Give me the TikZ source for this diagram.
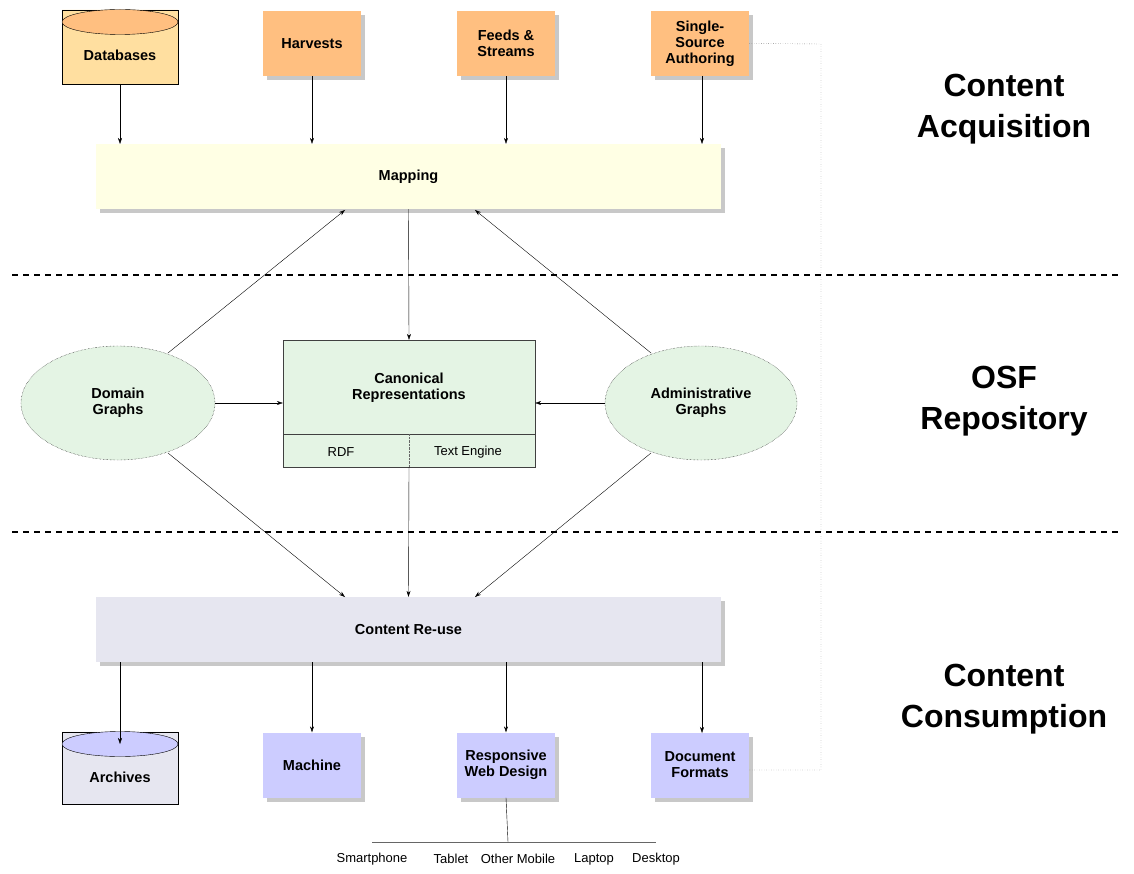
\documentclass[tikz,border=0pt]{standalone}
\usepackage{fontspec}
\setmainfont{Liberation Sans}
\usetikzlibrary{shapes.geometric,arrows.meta}
\definecolor{orangef}{HTML}{FFBF80}
\definecolor{dbf}{HTML}{FFDFA0}
\definecolor{mapf}{HTML}{FFFFE4}
\definecolor{greenf}{HTML}{E4F4E4}
\definecolor{reusef}{HTML}{E6E6F0}
\definecolor{bluef}{HTML}{CCCCFF}
\definecolor{shad}{HTML}{C8C8C8}
\begin{document}
\begin{tikzpicture}[x=1pt,y=-1pt,
 lbl/.style={font=\fontsize{14.5}{16}\selectfont\bfseries,align=center},
 box/.style={lbl,draw=none,minimum width=98pt,minimum height=65pt,inner sep=0pt},
 shadowed/.style={preaction={fill=shad,transform canvas={shift={(4pt,-4pt)}}}},
 arr/.style={-{Stealth[length=6pt,width=4pt]},black},
 big/.style={font=\fontsize{32}{41}\selectfont\bfseries,align=center},
 small/.style={font=\fontsize{13}{15}\selectfont}]
\useasboundingbox (0,0) rectangle (1134,874);
% top boxes
\node[box,fill=orangef,shadowed] (harv) at (312,43.5) {Harvests};
\node[box,fill=orangef,shadowed] (feeds) at (506,43.5) {Feeds \&\\Streams};
\node[box,fill=orangef,shadowed] (ssa) at (700,43.5) {Single-\\Source\\Authoring};
\node[cylinder,shape border rotate=90,aspect=0.35,draw,fill=dbf,minimum width=116pt,minimum height=74pt,inner sep=0pt,lbl] (db) at (120,47) {};
\fill[orangef] (120,22) ellipse (58 and 12.5);
\draw (120,22) ellipse (58 and 12.5);
\node[lbl] at (120,55) {Databases};
\node[box,fill=mapf,shadowed,minimum width=625pt] (map) at (408.5,176.5) {Mapping};
% dashed
\draw[dashed,line width=1.5pt,dash pattern=on 6pt off 5pt] (12,275) -- (1118,275);
\draw[dashed,line width=1.5pt,dash pattern=on 6pt off 5pt] (12,532) -- (1118,532);
% middle
\node[ellipse,draw,densely dotted,fill=greenf,minimum width=194pt,minimum height=114pt,lbl] (dom) at (118,403) {Domain\\Graphs};
\node[ellipse,draw,densely dotted,fill=greenf,minimum width=192pt,minimum height=114pt,lbl] (adm) at (701,403) {Administrative\\Graphs};
\node[draw=black!75,fill=greenf,minimum width=252pt,minimum height=127pt,inner sep=0pt] (can) at (409,403.5) {};
\draw[black!75] (283,434) -- (535,434);
\draw[densely dotted,black!60] (409,434) -- (409,467);
\node[lbl] at (409,388) {Canonical\\Representations};
\node[small] at (341,452) {RDF};
\node[small] at (468,452) {Text Engine};
% bottom
\node[box,fill=reusef,shadowed,minimum width=625pt] (reuse) at (408.5,629.5) {Content Re-use};
\node[box,fill=bluef,shadowed] (mach) at (312,765) {Machine};
\node[box,fill=bluef,shadowed] (rwd) at (506,765) {Responsive\\Web Design};
\node[box,fill=bluef,shadowed] (docf) at (700,765) {Document\\Formats};
\node[cylinder,shape border rotate=90,aspect=0.35,draw,fill=reusef,minimum width=116pt,minimum height=72pt,inner sep=0pt] (arch) at (120,768) {};
\fill[bluef] (120,744) ellipse (58 and 12.5);
\draw (120,744) ellipse (58 and 12.5);
\node[lbl] at (120,777) {Archives};
\coordinate (leafl) at (372,842);
\coordinate (leafr) at (656,842);
\coordinate (leafm) at (508,842);
\draw[black!60] (leafl) -- (leafr);
\draw (rwd.south) -- (leafm);
\node[small] at (372,859) {Smartphone};
\node[small] at (451,859) {Tablet};
\node[small] at (518,859) {Other Mobile};
\node[small] at (594,859) {Laptop};
\node[small] at (656,859) {Desktop};
% right titles
\node[big] at (1004,109.5) {Content\\Acquisition};
\node[big] at (1004,401) {OSF\\Repository};
\node[big] at (1004,699) {Content\\Consumption};
% arrows
\draw[arr] (120,84) -- (120,144);
\draw[arr] (harv.south) -- (map.north -| harv);
\draw[arr] (feeds.south) -- (map.north -| feeds);
\draw[arr] (702,76) -- (702,144);
\draw[arr] (map.south) -- (can.north);
\draw[arr] (dom) -- (can.west |- dom);
\draw[arr] (adm) -- (can.east |- adm);
\draw[arr] (168,353) -- (345,210);
\draw[arr] (651,353) -- (475,210);
\draw[arr] (168,453) -- (345,597);
\draw[arr] (651,453) -- (475,597);
\draw[arr] (can.south) -- (reuse.north);
\draw[arr] (120,662) -- (120,744);
\draw[arr] (reuse.south -| mach) -- (mach.north);
\draw[arr] (reuse.south -| rwd) -- (rwd.north);
\draw[arr] (702,662) -- (702,733);
\coordinate (c1) at (821,44);
\coordinate (c2) at (821,770);
\draw[dotted,black!80] (ssa.east) -- (c1) -- (c2) -- (docf.east |- c2);
\end{tikzpicture}
\end{document}
